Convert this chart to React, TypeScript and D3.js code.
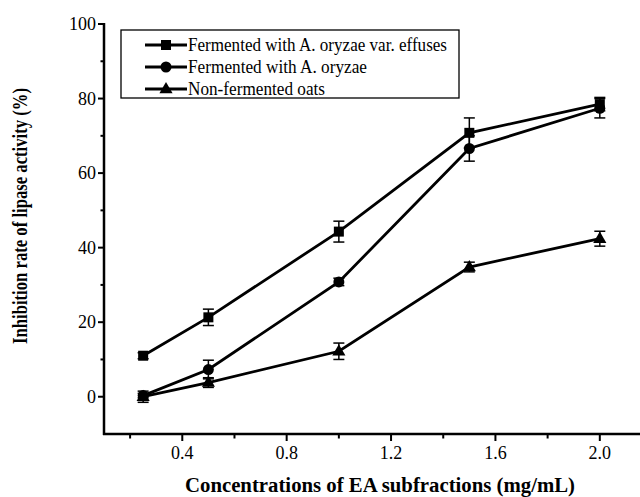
import React from 'react';
import * as d3 from 'd3';

const concentrations = [0.25, 0.5, 1.0, 1.5, 2.0];
const effusesMean = [11.0, 21.3, 44.3, 70.8, 78.5];
const effusesErr = [0.8, 2.2, 2.8, 4.0, 1.8];
const oryzaeMean = [0.3, 7.3, 30.8, 66.6, 77.4];
const oryzaeErr = [0.6, 2.5, 1.0, 3.4, 2.6];
const nonMean = [0.0, 3.8, 12.2, 34.8, 42.4];
const nonErr = [1.5, 1.3, 2.2, 1.3, 2.0];

const seriesNames = [
  'Fermented with A. oryzae var. effuses',
  'Fermented with A. oryzae',
  'Non-fermented oats'
];
const legendWidths = [259, 179, 137];

const xMajor = [0.4, 0.8, 1.2, 1.6, 2.0];
const xMinor = [0.2, 0.6, 1.0, 1.4, 1.8];
const yMajor = [0, 20, 40, 60, 80, 100];
const yMinor = [10, 30, 50, 70, 90];

const font = "'Liberation Serif', 'Times New Roman', Times, 'DejaVu Serif', serif";

export default function App() {
  const width = 640, height = 497;
  const x = d3.scaleLinear().domain([0.1, 2.2]).range([104, 652]);
  const y = d3.scaleLinear().domain([-10, 100]).range([434, 24]);

  const series = [
    { name: seriesNames[0], mean: effusesMean, err: effusesErr, shape: 'square' },
    { name: seriesNames[1], mean: oryzaeMean, err: oryzaeErr, shape: 'circle' },
    { name: seriesNames[2], mean: nonMean, err: nonErr, shape: 'triangle' }
  ];

  const line = d3.line<number>()
    .x((d, i) => x(concentrations[i]))
    .y(d => y(d));

  const marker = (shape: string, cx: number, cy: number, key: any) => {
    if (shape === 'square') {
      return <rect key={key} x={cx - 5} y={cy - 5} width={10} height={10} fill="#000" />;
    }
    if (shape === 'circle') {
      return <circle key={key} cx={cx} cy={cy} r={5.5} fill="#000" />;
    }
    const tri = d3.symbol().type(d3.symbolTriangle).size(75)();
    return <path key={key} d={tri || ''} transform={`translate(${cx},${cy + 0.5})`} fill="#000" />;
  };

  const tickStyle = { fontFamily: font, fontSize: 18 };

  return (
    <svg width={width} height={height} style={{ position: 'absolute', left: 0, top: 0, fontFamily: font }}>
      <rect width={width} height={height} fill="#fff" />
      {/* axes */}
      <line x1={x(0.1)} x2={x(0.1)} y1={y(100) - 1} y2={y(-10) + 1} stroke="#000" strokeWidth={2.5} />
      <line x1={x(0.1) - 1} x2={width} y1={y(-10)} y2={y(-10)} stroke="#000" strokeWidth={2.5} />
      {yMajor.map(v => (
        <g key={'ym' + v}>
          <line x1={x(0.1) - 6} x2={x(0.1)} y1={y(v)} y2={y(v)} stroke="#000" strokeWidth={2} />
          <text x={x(0.1) - 8} y={y(v)} dy="0.35em" textAnchor="end" style={tickStyle}>{v}</text>
        </g>
      ))}
      {yMinor.map(v => (
        <line key={'yn' + v} x1={x(0.1) - 3.5} x2={x(0.1)} y1={y(v)} y2={y(v)} stroke="#000" strokeWidth={2} />
      ))}
      {xMajor.map(v => (
        <g key={'xm' + v}>
          <line x1={x(v)} x2={x(v)} y1={y(-10)} y2={y(-10) + 7} stroke="#000" strokeWidth={2} />
          <text x={x(v)} y={459} textAnchor="middle" style={tickStyle}>{v.toFixed(1)}</text>
        </g>
      ))}
      {xMinor.map(v => (
        <line key={'xn' + v} x1={x(v)} x2={x(v)} y1={y(-10)} y2={y(-10) + 4.5} stroke="#000" strokeWidth={2} />
      ))}
      <text x={380} y={492} textAnchor="middle" style={{ fontFamily: font, fontSize: 20, fontWeight: 'bold' }}
        textLength={390} lengthAdjust="spacingAndGlyphs">Concentrations of EA subfractions (mg/mL)</text>
      <text transform="translate(27,216) rotate(-90)" textAnchor="middle"
        style={{ fontFamily: font, fontSize: 20, fontWeight: 'bold' }}
        textLength={256} lengthAdjust="spacingAndGlyphs">Inhibition rate of lipase activity (%)</text>

      {/* series */}
      {series.map((s, si) => (
        <g key={'s' + si}>
          <path d={line(s.mean) || ''} fill="none" stroke="#000" strokeWidth={2.8} />
          {s.mean.map((m, i) => (
            <g key={i} stroke="#000" strokeWidth={1.5}>
              <line x1={x(concentrations[i])} x2={x(concentrations[i])} y1={y(m - s.err[i])} y2={y(m + s.err[i])} />
              <line x1={x(concentrations[i]) - 5.5} x2={x(concentrations[i]) + 5.5} y1={y(m + s.err[i])} y2={y(m + s.err[i])} />
              <line x1={x(concentrations[i]) - 5.5} x2={x(concentrations[i]) + 5.5} y1={y(m - s.err[i])} y2={y(m - s.err[i])} />
            </g>
          ))}
          {s.mean.map((m, i) => marker(s.shape, x(concentrations[i]), y(m), 'mk' + i))}
        </g>
      ))}

      {/* legend */}
      <rect x={121} y={30} width={338} height={68} fill="#fff" stroke="#000" strokeWidth={1.3} />
      {series.map((s, i) => {
        const ly = 45 + i * 22;
        return (
          <g key={'lg' + i}>
            <line x1={145} x2={187} y1={ly} y2={ly} stroke="#000" strokeWidth={2.8} />
            {marker(s.shape, 166, ly, 'lm' + i)}
            <text x={188} y={ly} dy="0.33em" style={{ fontFamily: font, fontSize: 19 }}
              textLength={legendWidths[i]} lengthAdjust="spacingAndGlyphs">{s.name}</text>
          </g>
        );
      })}
    </svg>
  );
}
